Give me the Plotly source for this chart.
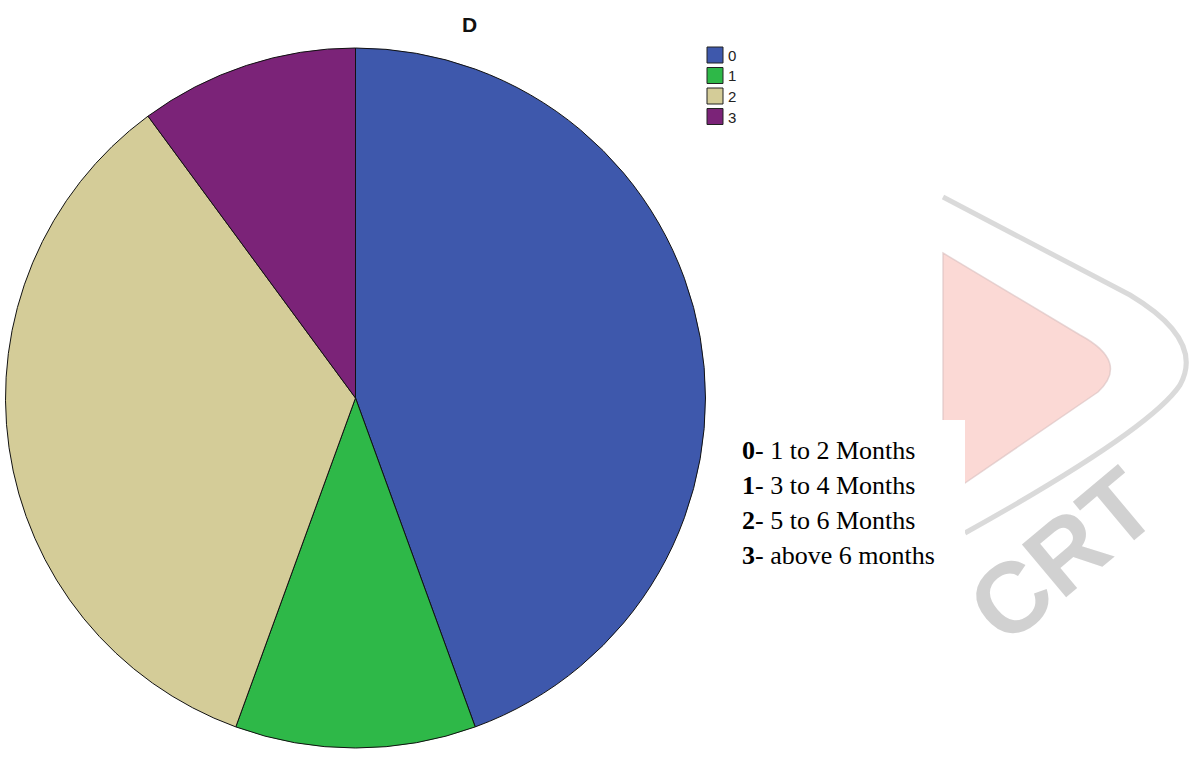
import plotly.graph_objects as go

# Data
codes = ["0", "1", "2", "3"]
counts = [44, 11, 34, 10]
descriptions = ["1 to 2 Months", "3 to 4 Months", "5 to 6 Months", "above 6 months"]
colors = ["#3E58AC", "#2EB848", "#D4CC98", "#7B2378"]
title_text = "D"

W, H = 1192, 781

def px(x):
    return x / W

def py(y):
    return 1 - y / H

fig = go.Figure()
fig.add_trace(go.Pie(
    labels=codes,
    values=counts,
    sort=False,
    direction="clockwise",
    rotation=0,
    textinfo="none",
    hoverinfo="label+value+percent",
    marker=dict(colors=colors, line=dict(color="#111111", width=1)),
    domain=dict(x=[px(5.5), px(705.5)], y=[py(748), py(48)]),
    showlegend=False,
))

shapes = []
# Watermark: pink rounded triangle
shapes.append(dict(
    type="path", xref="paper", yref="paper", layer="below",
    path=(f"M {px(943)},{py(253)} "
          f"L {px(1080)},{py(335)} "
          f"Q {px(1130)},{py(362)} {px(1098)},{py(392)} "
          f"L {px(965)},{py(483)} "
          f"L {px(943)},{py(483)} Z"),
    fillcolor="rgba(250,208,203,0.8)",
    line=dict(color="rgba(215,190,190,0.6)", width=1.5),
))
# Watermark: gray outline arc
shapes.append(dict(
    type="path", xref="paper", yref="paper", layer="below",
    path=(f"M {px(943)},{py(197)} "
          f"L {px(1130)},{py(295)} "
          f"Q {px(1205)},{py(340)} {px(1180)},{py(385)} "
          f"Q {px(1150)},{py(430)} {px(965)},{py(533)}"),
    line=dict(color="rgba(205,205,205,0.75)", width=5),
))
# White box behind the key text
shapes.append(dict(
    type="rect", xref="paper", yref="paper", layer="below",
    x0=px(720), x1=px(965), y0=0, y1=py(420),
    fillcolor="white", line=dict(width=0),
))

annotations = []
annotations.append(dict(
    x=px(469), y=py(24), xref="paper", yref="paper",
    text=f"<b>{title_text}</b>", showarrow=False,
    font=dict(family="Liberation Sans, Arial", size=21, color="#111111"),
    xanchor="center", yanchor="middle",
))

# Small key (legend) in top right of the pie
leg_top = [47, 67.5, 88, 108.5]
for c, col, yy in zip(codes, colors, leg_top):
    shapes.append(dict(
        type="rect", xref="paper", yref="paper", layer="above",
        x0=px(707), x1=px(723), y0=py(yy + 16), y1=py(yy),
        fillcolor=col, line=dict(color="#222222", width=1),
    ))
    annotations.append(dict(
        x=px(726), y=py(yy + 8.5), xref="paper", yref="paper",
        text=c, showarrow=False,
        font=dict(family="Liberation Sans, Arial", size=15, color="#222222"),
        xanchor="left", yanchor="middle",
    ))

line_y = [450, 485, 520, 555]
for c, d, yy in zip(codes, descriptions, line_y):
    annotations.append(dict(
        x=px(740), y=py(yy), xref="paper", yref="paper",
        text=f"<b>{c}</b>- {d}", showarrow=False,
        font=dict(family="Liberation Serif, Times New Roman", size=26, color="#000000"),
        xanchor="left", yanchor="middle",
    ))
# Watermark text
annotations.append(dict(
    x=px(1062), y=py(555), xref="paper", yref="paper",
    text="<b>CRT</b>", showarrow=False, textangle=-40,
    font=dict(family="Liberation Sans", size=100, color="rgba(190,190,190,0.7)"),
    xanchor="center", yanchor="middle",
))

fig.update_layout(
    width=W, height=H,
    margin=dict(l=0, r=0, t=0, b=0),
    paper_bgcolor="white", plot_bgcolor="white",
    shapes=shapes,
    annotations=annotations,
    showlegend=False,
)

fig.write_html("out.html")
